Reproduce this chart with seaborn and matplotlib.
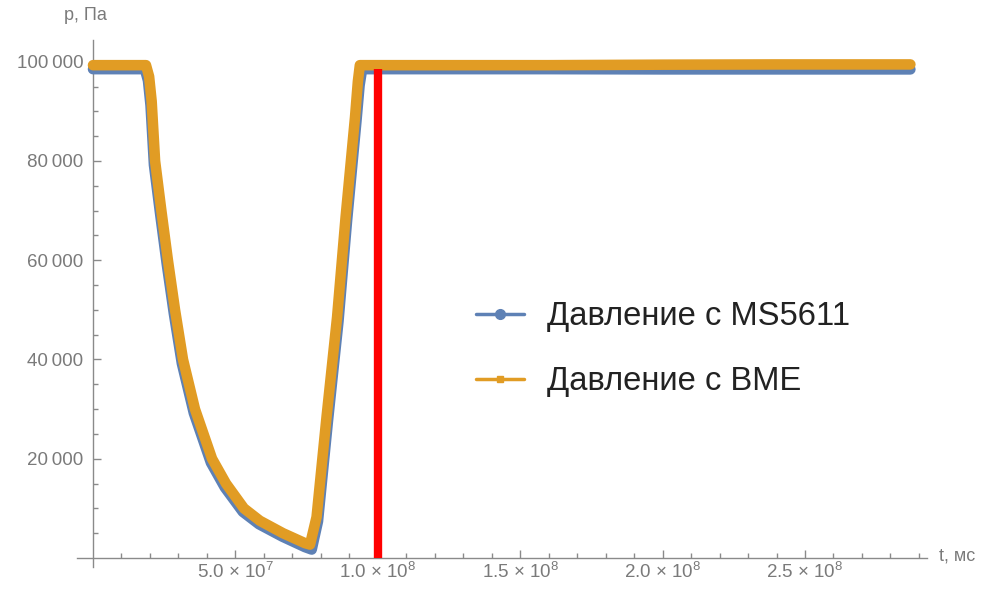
import numpy as np
import pandas as pd
import matplotlib
matplotlib.use("Agg")
import matplotlib.pyplot as plt
import seaborn as sns
from matplotlib.lines import Line2D
from matplotlib.ticker import FixedLocator, FixedFormatter

# ---------------- data ----------------
t_bme = [0.0, 1.86e7, 1.97e7, 2.06e7, 2.18e7, 2.40e7, 2.63e7, 2.88e7, 3.16e7, 3.58e7,
         4.18e7, 4.67e7, 5.30e7, 5.86e7, 6.67e7, 7.44e7, 7.62e7, 7.85e7, 8.2e7, 8.57e7,
         8.87e7, 9.2e7, 9.3e7, 9.37e7, 1.2e8, 1.6e8, 2.0e8, 2.4e8, 2.87e8]
p_bme = [99300, 99300, 97000, 92000, 80000, 70000, 60000, 50000, 40000, 30000,
         20000, 15000, 10000, 7500, 5000, 3000, 2700, 8250, 28400, 48500,
         68700, 88800, 96000, 99300, 99300, 99300, 99400, 99450, 99450]

t_ms = [0.0, 1.82e7, 1.93e7, 2.02e7, 2.14e7, 2.36e7, 2.59e7, 2.84e7, 3.12e7, 3.54e7,
        4.14e7, 4.63e7, 5.26e7, 5.83e7, 6.65e7, 7.44e7, 7.68e7, 7.90e7, 8.25e7, 8.62e7,
        8.92e7, 9.25e7, 9.36e7, 9.45e7, 1.2e8, 1.6e8, 2.0e8, 2.4e8, 2.87e8]
p_ms = [98500, 98500, 96200, 91200, 79200, 69200, 59200, 49200, 39200, 29200,
        19200, 14200, 9300, 6800, 4300, 2200, 1700, 7400, 27600, 47700,
        67900, 88000, 95200, 98500, 98500, 98500, 98450, 98450, 98450]

red_t = [1.0e8, 1.0e8]
red_p = [0, 98500]

series_labels = ["Давление с MS5611", "Давление с BME"]

x_ticks = [5e7, 1e8, 1.5e8, 2e8, 2.5e8]
x_tick_labels = ["5.0 × 10$^{7}$", "1.0 × 10$^{8}$", "1.5 × 10$^{8}$",
                 "2.0 × 10$^{8}$", "2.5 × 10$^{8}$"]
y_ticks = [20000, 40000, 60000, 80000, 100000]
y_tick_labels = ["20\u2009000", "40\u2009000", "60\u2009000", "80\u2009000", "100\u2009000"]

x_label = "t, мс"
y_label = "p, Па"

# ---------------- style ----------------
sns.set_theme(style="white")
plt.rcParams["font.family"] = ["Liberation Sans", "DejaVu Sans"]
plt.rcParams["mathtext.fontset"] = "custom"
plt.rcParams["mathtext.rm"] = "Liberation Sans"
plt.rcParams["mathtext.it"] = "Liberation Sans:italic"
plt.rcParams["mathtext.bf"] = "Liberation Sans:bold"

BLUE = "#5E81B5"
ORANGE = "#E19C24"
RED = "#FF0000"
AXIS = "#8a8a8a"
TICKTXT = "#7a7a7a"

W, H = 986, 590
fig = plt.figure(figsize=(W / 100, H / 100), dpi=100)

# axes placement: x=0 at px 93, 1e8 per 284.8 px; y=0 at px 558, 1000 Pa per 4.963 px
ax_l, ax_r, ax_t, ax_b = 77, 927, 40, 567
ax = fig.add_axes([ax_l / W, 1 - ax_b / H, (ax_r - ax_l) / W, (ax_b - ax_t) / H])
ax.set_xlim((ax_l - 93) / 284.8 * 1e8, (ax_r - 93) / 284.8 * 1e8)
ax.set_ylim((558 - ax_b) / 4.963 * 1000, (558 - ax_t) / 4.963 * 1000)

df_ms = pd.DataFrame({"t": t_ms, "p": p_ms})
df_bme = pd.DataFrame({"t": t_bme, "p": p_bme})
df_red = pd.DataFrame({"t": red_t, "p": red_p})

sns.lineplot(data=df_ms, x="t", y="p", ax=ax, color=BLUE, linewidth=7.6,
             sort=False, estimator=None, solid_capstyle="round",
             solid_joinstyle="round", zorder=3)
sns.lineplot(data=df_bme, x="t", y="p", ax=ax, color=ORANGE, linewidth=7.6,
             sort=False, estimator=None, solid_capstyle="round",
             solid_joinstyle="round", zorder=4)
sns.lineplot(data=df_red, x="t", y="p", ax=ax, color=RED, linewidth=6,
             sort=False, estimator=None, solid_capstyle="butt", zorder=5)

ax.set_xlabel("")
ax.set_ylabel("")

for s in ["top", "right"]:
    ax.spines[s].set_visible(False)
ax.spines["left"].set_position(("data", 0))
ax.spines["bottom"].set_position(("data", 0))
for s in ["left", "bottom"]:
    ax.spines[s].set_color(AXIS)
    ax.spines[s].set_linewidth(1.0)

ax.xaxis.set_major_locator(FixedLocator(x_ticks))
ax.xaxis.set_major_formatter(FixedFormatter(x_tick_labels))
ax.yaxis.set_major_locator(FixedLocator(y_ticks))
ax.yaxis.set_major_formatter(FixedFormatter(y_tick_labels))
ax.xaxis.set_minor_locator(FixedLocator([v * 1e7 for v in range(1, 30) if v % 5 != 0]))
ax.yaxis.set_minor_locator(FixedLocator([v * 5000 for v in range(1, 21) if v % 4 != 0]))

ax.tick_params(which="both", bottom=True, left=True, top=False, right=False)
ax.tick_params(which="major", direction="in", length=5.5, width=1.0, color=AXIS,
               labelcolor=TICKTXT, labelsize=13.5)
ax.tick_params(which="minor", direction="in", length=3.5, width=1.0, color=AXIS)
ax.tick_params(axis="y", which="major", pad=7)
ax.tick_params(axis="x", which="major", pad=3)
ax.grid(False)

fig.text(64 / W, 1 - 16 / H, y_label, fontsize=13, color=TICKTXT, ha="left", va="center")
fig.text(939 / W, 1 - 556 / H, x_label, fontsize=13, color=TICKTXT, ha="left", va="center")

handles = [
    Line2D([], [], color=BLUE, lw=2.5, marker="o", markersize=7),
    Line2D([], [], color=ORANGE, lw=2.5, marker="s", markersize=5),
]
leg = fig.legend(handles, series_labels, loc="upper left",
                 bbox_to_anchor=(476 / W, 1 - 301 / H), frameon=False, fontsize=23.6,
                 handlelength=1.45, handletextpad=0.72, labelspacing=1.05,
                 borderpad=0, borderaxespad=0)
for txt in leg.get_texts():
    txt.set_color("#222222")

fig.savefig("out.png", dpi=100)
